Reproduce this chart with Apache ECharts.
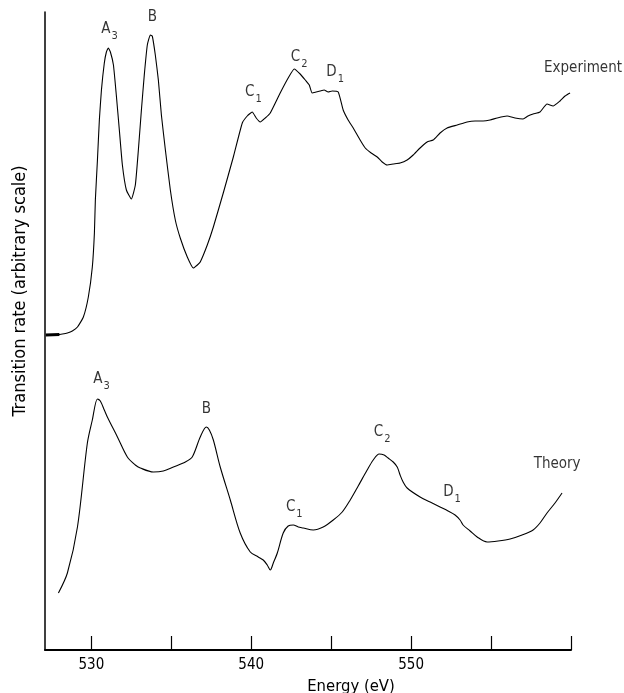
<!DOCTYPE html>
<html><head><meta charset="utf-8">
<script src="https://cdn.jsdelivr.net/npm/echarts@6/dist/echarts.min.js"></script>
<style>html,body{margin:0;padding:0;background:#fff}#c{width:624px;height:693px}</style>
</head><body><div id="c"></div>
<script>
// Experimental spectrum (energy in eV, transition rate in arbitrary units)
const expEnergy = [527.19,527.75,528.19,528.50,528.81,529.13,529.50,529.81,530.06,530.19,530.25,530.38,530.50,530.63,530.81,530.94,531.06,531.19,531.38,531.56,531.75,531.94,532.19,532.50,532.75,532.94,533.13,533.31,533.50,533.69,533.81,534.00,534.19,534.38,534.63,534.94,535.25,535.56,536.00,536.38,536.63,536.81,537.25,537.63,538.25,538.88,539.44,539.75,540.06,540.31,540.56,540.88,541.19,541.81,542.31,542.69,543.06,543.38,543.63,543.81,544.06,544.31,544.56,544.81,545.06,545.44,545.75,546.06,546.38,546.81,547.13,547.50,547.88,548.19,548.50,548.88,549.31,549.75,550.13,550.56,551.00,551.38,551.81,552.25,552.88,553.50,554.00,554.50,554.94,555.38,556.00,556.50,557.00,557.31,557.63,558.06,558.50,558.88,559.31,559.63,559.94];
const expRate = [315,315,316,317,319,323,333,353,383,417,450,490,530,560,587,598,602,598,585,555,520,485,460,451,465,500,540,575,605,615,614,595,570,535,500,460,430,412,393,382,385,388,405,423,457,493,527,534,538,532,528,532,537,557,572,581,576,570,565,557,558,559,560,558,559,558,540,530,522,510,502,497,493,488,485,486,487,490,495,502,508,510,517,522,525,528,529,529,530,532,534,532,531,534,536,538,546,544,549,554,557];
// Short thick starting trace of the experiment
const baseEnergy = [527.15, 528.0];
const baseRate = [315, 315.5];
// Theoretical spectrum
const theoryEnergy = [527.94,528.50,529.13,529.75,530.06,530.38,530.56,530.81,531.00,531.63,532.25,532.75,533.06,533.88,534.50,535.13,535.88,536.31,536.81,537.19,537.38,537.63,538.06,538.69,539.31,539.94,540.44,540.75,541.00,541.19,541.38,541.63,542.00,542.31,542.63,542.94,543.25,543.88,544.50,545.13,545.69,546.19,546.69,547.25,547.63,548.00,548.31,548.56,548.88,549.13,549.31,549.50,549.75,550.56,551.19,551.81,552.31,552.75,553.06,553.25,553.69,554.13,554.75,555.44,556.19,556.94,557.63,558.06,558.50,559.00,559.44];
const theoryRate = [57,77,123,207,230,251,249,240,233,213,193,185,182,178,179,183,188,193,213,223,220,210,183,150,117,98,93,90,85,80,87,97,117,124,125,123,122,120,123,130,138,150,164,180,190,196,195,192,188,183,175,168,162,153,148,143,139,135,130,125,119,113,108,109,111,115,120,127,137,147,157];
// Annotations
const noteMain = ['A','B','C','C','D','Experiment','A','B','C','C','D','Theory'];
const noteSub  = ['3','','1','2','1','','3','','1','2','1',''];
const noteEnergy = [531.13,533.81,540.13,543.00,545.25,560.75,530.63,537.19,542.69,548.19,552.56,559.13];
const noteRate   = [618,630,555,590,575,579,268,238,140,215,155,183];
// Axis ticks
const tickValues = [530,535,540,545,550,555,560];
const labelValues = [530,540,550];

const FONT = "'DejaVu Sans Condensed','Liberation Sans Narrow','Open Sans',sans-serif";
const zip = (a,b) => a.map((v,i)=>[v,b[i]]);

const chart = echarts.init(document.getElementById('c'), null, {renderer:'canvas'});
chart.setOption({
  animation:false,
  backgroundColor:'#fff',
  grid:{left:45,right:53,top:12,bottom:43,containLabel:false,outerBoundsMode:'none'},
  xAxis:{
    type:'value',min:527.1,max:560,
    axisLine:{lineStyle:{color:'#000',width:2}},
    axisTick:{inside:true,length:14,customValues:tickValues,lineStyle:{color:'#000',width:1.2}},
    axisLabel:{customValues:labelValues,margin:8,color:'#000',fontSize:15,fontFamily:FONT},
    splitLine:{show:false},
    name:'Energy (eV)',nameLocation:'middle',nameGap:26,
    nameTextStyle:{color:'#000',fontSize:16.5,fontFamily:FONT,padding:[0,0,0,86]}
  },
  yAxis:{
    type:'value',min:0,max:638,
    axisLine:{show:true,lineStyle:{color:'#000',width:1.5}},
    axisTick:{show:false},axisLabel:{show:false},splitLine:{show:false},
    name:'Transition rate (arbitrary scale)',nameLocation:'middle',nameGap:16,
    nameTextStyle:{color:'#000',fontSize:18,fontFamily:FONT,padding:[0,0,0,80]}
  },
  series:[
    {type:'line',name:'Experiment',data:zip(expEnergy,expRate),showSymbol:false,smooth:0.15,
     lineStyle:{color:'#000',width:1.1}},
    {type:'line',name:'ExpStart',data:zip(baseEnergy,baseRate),showSymbol:false,
     lineStyle:{color:'#000',width:3}},
    {type:'line',name:'Theory',data:zip(theoryEnergy,theoryRate),showSymbol:false,smooth:0.3,
     lineStyle:{color:'#000',width:1.1}},
    {type:'scatter',name:'notes',clip:false,symbolSize:1,itemStyle:{color:'rgba(0,0,0,0)'},
     data:noteEnergy.map((e,i)=>({value:[e,noteRate[i]],main:noteMain[i],sub:noteSub[i]})),
     label:{show:true,position:'inside',color:'#000',
       formatter:p=> p.data.sub ? '{m|'+p.data.main+'}{s|'+p.data.sub+'}' : '{m|'+p.data.main+'}',
       rich:{
         m:{fontSize:15,fontFamily:FONT,color:'#000',lineHeight:20,verticalAlign:'top'},
         s:{fontSize:11,fontFamily:FONT,color:'#000',lineHeight:20,verticalAlign:'bottom',padding:[11,0,0,1]}
       }}
    }
  ]
});
</script></body></html>
